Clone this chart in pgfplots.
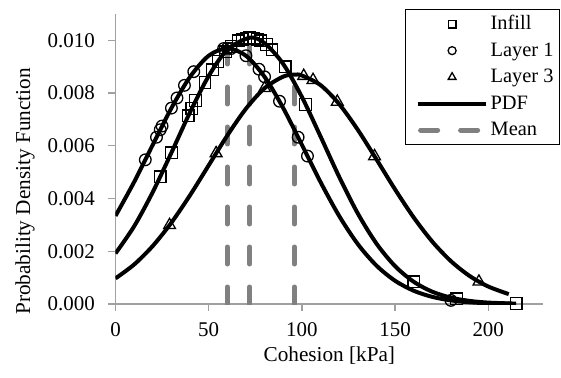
\documentclass[border=0pt]{standalone}
\usepackage{fontspec}
\setmainfont{Liberation Serif}
\usepackage{pgfplots}
\pgfplotsset{compat=1.18}
\definecolor{meangray}{RGB}{128,128,128}
\definecolor{axgray}{RGB}{160,160,160}
\pgfplotsset{
  markleg/.style={legend image code/.code={\path (0bp,0bp) (74bp,0bp); \draw[##1] plot coordinates {(40bp,0bp)};}},
  lineleg/.style={legend image code/.code={\path (0bp,0bp); \draw[##1] (6bp,0bp) -- (74bp,0bp);}},
  dashleg/.style={legend image code/.code={\path (0bp,0bp); \draw[##1] (8.5bp,0bp) -- (74bp,0bp);}},
}
\begin{document}
\fontsize{21}{25}\selectfont
\begin{tikzpicture}
\begin{axis}[
  scale only axis, width=427.7bp, height=290bp,
  xmin=0, xmax=229.5, ymin=0, ymax=0.011,
  xtick={0,50,100,150,200}, ytick={0,0.002,0.004,0.006,0.008,0.010},
  axis x line*=bottom, axis y line*=left,
  axis line style={axgray, line width=1.3bp},
  tick style={axgray, line width=1.3bp},
  tick align=outside, major tick length=7bp,
  /pgf/number format/assume math mode=true,
  scaled y ticks=false,
  ticklabel style={font=\fontsize{21}{25}\selectfont},
  yticklabel style={/tikz/xshift=-6.6bp, /pgf/number format/.cd, fixed, fixed zerofill, precision=3},
  xticklabel style={/tikz/yshift=-4bp},
  label style={font=\fontsize{21.3}{25}\selectfont},
  xlabel={Cohesion [kPa]}, ylabel={Probability Density Function},
  xlabel style={at={(axis description cs:0.5,0)}, anchor=center, yshift=-52bp},
  ylabel style={at={(axis description cs:0,0.443)}, anchor=center, yshift=90.5bp, xshift=-16bp},
  legend cell align=left,
  legend style={at={(axis description cs:1,1)}, anchor=north east, xshift=17bp, yshift=5bp,
    draw=black, line width=1.3bp, font=\fontsize{20.5}{24}\selectfont,
    nodes={inner sep=2bp, text height=15bp, text depth=4bp}, row sep=3.5bp,
    inner xsep=4bp, inner ysep=3bp},
]
% mean lines
\addplot[forget plot, meangray, line width=5bp, line cap=round, dash pattern=on 17bp off 23bp] coordinates {(60,0) (60,0.0097)};
\addplot[forget plot, meangray, line width=5bp, line cap=round, dash pattern=on 17bp off 23bp] coordinates {(72,0) (72,0.0101)};
\addplot[forget plot, meangray, line width=5bp, line cap=round, dash pattern=on 17bp off 23bp] coordinates {(96,0) (96,0.0087)};
% PDF curves
\addplot[forget plot, black, line width=4bp, smooth] coordinates {
(0,0.001918) (10,0.002947) (20,0.004246) (30,0.005739) (40,0.007275) (50,0.008649)
(60,0.009644) (72,0.0101) (80,0.009895) (90,0.009104) (100,0.007856) (110,0.006358)
(120,0.004827) (130,0.003436) (140,0.002295) (150,0.001437) (160,0.000844) (170,0.000465)
(180,0.000240) (190,0.000117) (200,0.000053) (215,0.0000144)};
\addplot[forget plot, black, line width=4bp, smooth] coordinates {
(0,0.003342) (10,0.004628) (20,0.006041) (30,0.007431) (40,0.008617) (50,0.009417)
(60,0.0097) (70,0.009417) (80,0.008617) (90,0.007431) (100,0.006041) (110,0.004628)
(120,0.003342) (130,0.002274) (140,0.001459) (150,0.000882) (160,0.000503) (170,0.000270)
(180,0.000137) (190,0.0000652) (200,0.0000293) (212,0.0000104)};
\addplot[forget plot, black, line width=4bp, smooth] coordinates {
(0,0.000972) (10,0.001498) (20,0.002202) (30,0.003087) (40,0.004126) (50,0.005259)
(60,0.006392) (70,0.007408) (80,0.008186) (90,0.008626) (96,0.0087) (100,0.008667) (110,0.008304)
(120,0.007586) (130,0.006609) (140,0.005490) (150,0.004348) (160,0.003284) (170,0.002365)
(180,0.001624) (190,0.001064) (200,0.000664) (211,0.000375)};
% markers
\addplot[forget plot, only marks, mark=square, mark size=5.8bp, mark options={black, line width=1.3bp}] coordinates {
(24,0.004827) (30,0.005739) (39,0.007135) (41,0.007418) (43,0.007715) (48,0.008400) (52,0.008885)
(55,0.009200) (59,0.009563) (62,0.009768) (66,0.009984) (68,0.010048) (70,0.010087) (72,0.0101)
(74,0.010087) (76,0.010048) (78,0.009984) (81,0.009841) (84,0.009644) (91,0.009000) (102,0.007569)
(160,0.000844) (183,0.000195) (215,0.0000144)};
\addplot[forget plot, only marks, mark=o, mark size=5.8bp, mark options={black, line width=1.3bp}] coordinates {
(16,0.005469) (22,0.006326) (24,0.006610) (25,0.006750) (30,0.007431) (33,0.007817) (37,0.008294)
(42,0.008813) (58,0.009689) (60,0.0097) (62,0.009689) (70,0.009417) (77,0.008905) (80,0.008617)
(88,0.007691) (98,0.006326) (103,0.005611) (180,0.000137)};
\addplot[forget plot, only marks, mark=triangle, mark size=6.8bp, mark options={black, line width=1.3bp}] coordinates {
(29,0.002991) (54,0.005719) (80,0.008186) (101,0.008650) (106,0.008496) (119,0.007671)
(139,0.005604) (195,0.000846)};
% legend
\addlegendimage{only marks, mark=square, mark size=3.8bp, mark options={black, line width=1.3bp}, markleg}
\addlegendentry{Infill}
\addlegendimage{only marks, mark=o, mark size=4bp, mark options={black, line width=1.3bp}, markleg}
\addlegendentry{Layer 1}
\addlegendimage{only marks, mark=triangle, mark size=4.5bp, mark options={black, line width=1.3bp}, markleg}
\addlegendentry{Layer 3}
\addlegendimage{black, line width=4bp, lineleg}
\addlegendentry{PDF}
\addlegendimage{meangray, line width=5bp, line cap=round, dash pattern=on 17bp off 23bp, dashleg}
\addlegendentry{Mean}
\end{axis}
\pgfresetboundingbox
\path (current axis.south west) ++(-115.5bp,-74bp) rectangle ++(561bp,378bp);
\end{tikzpicture}
\end{document}
